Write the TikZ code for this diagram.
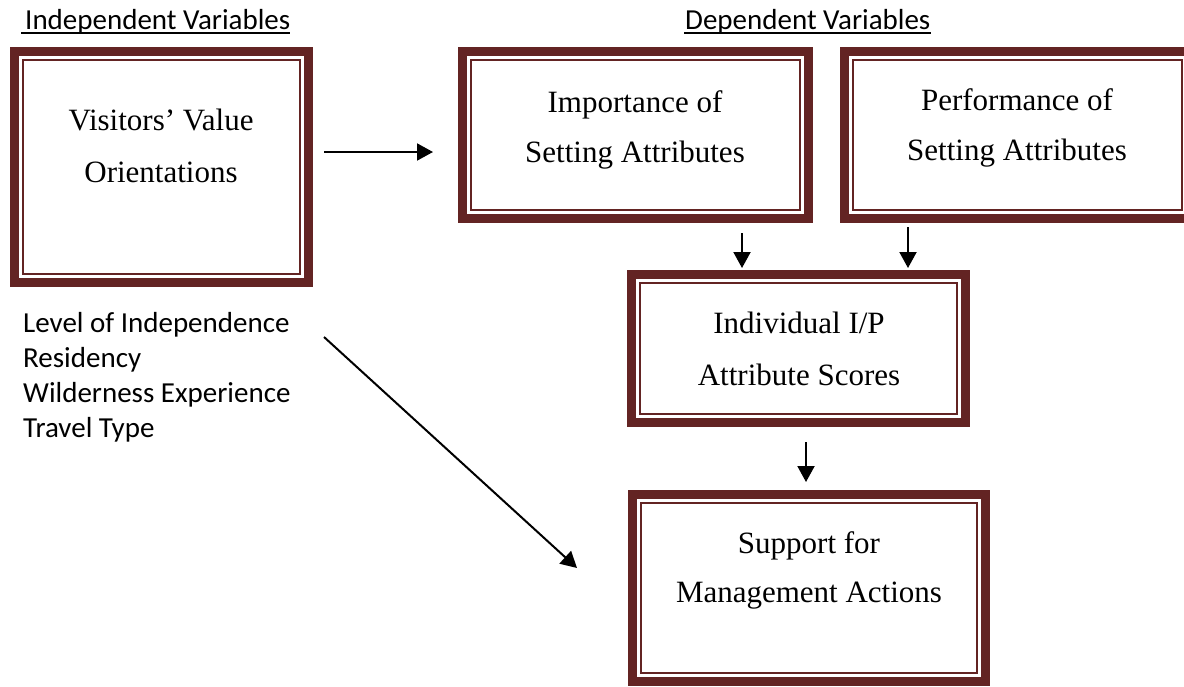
\documentclass[tikz,border=0pt]{standalone}
\usepackage{fontspec}
\setmainfont{Liberation Serif}
\newfontfamily\calib{Carlito}
\usetikzlibrary{arrows.meta}
\definecolor{maroon}{RGB}{99,36,35}
\tikzset{
  obox/.style={draw=maroon, line width=9pt, fill=white, inner sep=0pt, outer sep=0pt},
  thinframe/.style={draw=maroon, line width=2.5pt},
  btext/.style={inner sep=0pt, anchor=base, font=\fontsize{31}{36}\selectfont},
  stext/.style={inner sep=0pt, anchor=base west, font=\calib\fontsize{29}{35}\selectfont},
  arr/.style={line width=2pt, -{Triangle[length=16pt,width=17pt]}},
  uline/.style={line width=2pt}
}
\newcommand\innerframe[1]{\draw[thinframe] ([shift={(8.5,8.5)}]#1.north west) rectangle ([shift={(-8.5,-8.5)}]#1.south east);}
\begin{document}
\begin{tikzpicture}[x=1pt,y=-1pt]
\clip (0,0) rectangle (1184,686);
\fill[white] (0,0) rectangle (1184,686);

% headers
\node[stext] (hind) at (25,29) {Independent Variables};
\draw[uline] ([xshift=-4pt,yshift=-4pt]hind.base west) -- ([yshift=-4pt]hind.base east);
\node[stext] (hdep) at (685,29) {Dependent Variables};
\draw[uline] ([xshift=-1pt,yshift=-4pt]hdep.base west) -- ([yshift=-4pt]hdep.base east);

% boxes
\node[obox, minimum width=294pt, minimum height=231pt] (vvo) at (161.5,167) {};
\innerframe{vvo}
\node[obox, minimum width=346pt, minimum height=167pt] (imp) at (635.5,135) {};
\innerframe{imp}
\node[obox, minimum width=346pt, minimum height=167pt] (perf) at (1017.5,135) {};
\innerframe{perf}
\node[obox, minimum width=334pt, minimum height=148pt] (ind) at (798.5,348.5) {};
\innerframe{ind}
\node[obox, minimum width=353pt, minimum height=187pt] (sup) at (809,588) {};
\innerframe{sup}

% box texts
\node[btext] (vvo1) at (161,130) {Visitors’ Value};
\node[btext] (vvo2) at (161,182) {Orientations};
\node[btext] (imp1) at (635,112) {Importance of};
\node[btext] (imp2) at (635,162) {Setting Attributes};
\node[btext] (perf1) at (1017,110) {Performance of};
\node[btext] (perf2) at (1017,160) {Setting Attributes};
\node[btext] (ind1) at (799,333) {Individual I/P};
\node[btext] (ind2) at (799,385) {Attribute Scores};
\node[btext] (sup1) at (809,553) {Support for};
\node[btext] (sup2) at (809,602) {Management Actions};

% independent list
\node[stext] (l1) at (23,332) {Level of Independence};
\node[stext] (l2) at (23,367) {Residency};
\node[stext] (l3) at (23,402) {Wilderness Experience};
\node[stext] (l4) at (23,437) {Travel Type};

% connectors
\coordinate (a1s) at (324,152);
\coordinate (a1e) at (433,152);
\coordinate (a2s) at (742,233);
\coordinate (a2e) at (742,268);
\coordinate (a3s) at (908,227);
\coordinate (a3e) at (908,268);
\coordinate (a4s) at (806,442);
\coordinate (a4e) at (806,482);
\coordinate (a5s) at (324,337);
\coordinate (a5e) at (577,568);
\draw[arr] (a1s) -- (a1e);
\draw[arr] (a2s) -- (a2e);
\draw[arr] (a3s) -- (a3e);
\draw[arr] (a4s) -- (a4e);
\draw[arr] (a5s) -- (a5e);
\end{tikzpicture}
\end{document}
